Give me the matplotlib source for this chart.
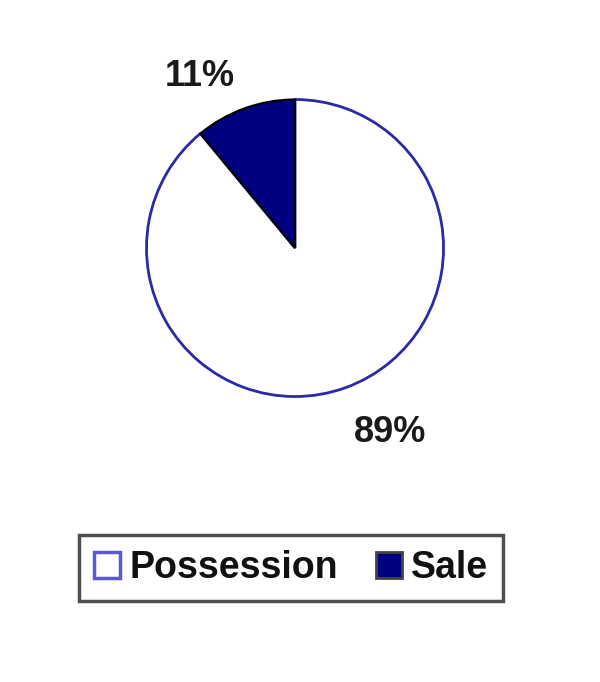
import matplotlib
matplotlib.use("Agg")
from matplotlib import pyplot
from matplotlib.patches import Patch

labels = ["Possession", "Sale"]
shares = [89, 11]
pct_text = ["89%", "11%"]

fig = pyplot.figure(figsize=(6, 6.82), dpi=100)
pyplot.rcParams['font.family'] = ['Liberation Sans', 'DejaVu Sans']

ax = fig.add_axes([0.2417, 0.4164, 0.5, 0.4399])
wedges, _ = ax.pie(shares, startangle=90, counterclock=False,
                   colors=["white", "#000080"])
wedges[0].set_edgecolor("#2a2aa8")
wedges[0].set_linewidth(2)
wedges[1].set_edgecolor("black")
wedges[1].set_linewidth(1.5)
wedges[1].set_zorder(3)
ax.set_xlim(-1.01, 1.01)
ax.set_ylim(-1.01, 1.01)
ax.set_aspect('equal')

# percentage labels placed outside the pie
fig.text(200 / 600, 1 - 77 / 682, pct_text[1], fontsize=26, fontweight='bold',
         color='#1a1a1a', ha='center', va='center')
fig.text(390 / 600, 1 - 433 / 682, pct_text[0], fontsize=26, fontweight='bold',
         color='#1a1a1a', ha='center', va='center')

handles = [Patch(facecolor="white", edgecolor="#5a5ad0", linewidth=2.5),
           Patch(facecolor="#000080", edgecolor="#444444", linewidth=2)]
leg = fig.legend(handles, labels, loc='center', bbox_to_anchor=(291 / 600, 1 - 568 / 682),
                 ncol=2, fancybox=False, frameon=True,
                 handlelength=0.7, handleheight=0.7, handletextpad=0.25,
                 columnspacing=1.0, borderpad=0.4, borderaxespad=0,
                 prop={'weight': 'bold', 'size': 27})
for t in leg.get_texts():
    t.set_color('#111111')
leg.get_frame().set_edgecolor('#222222')
leg.get_frame().set_linewidth(2.5)

fig.savefig("out.png", dpi=100)
